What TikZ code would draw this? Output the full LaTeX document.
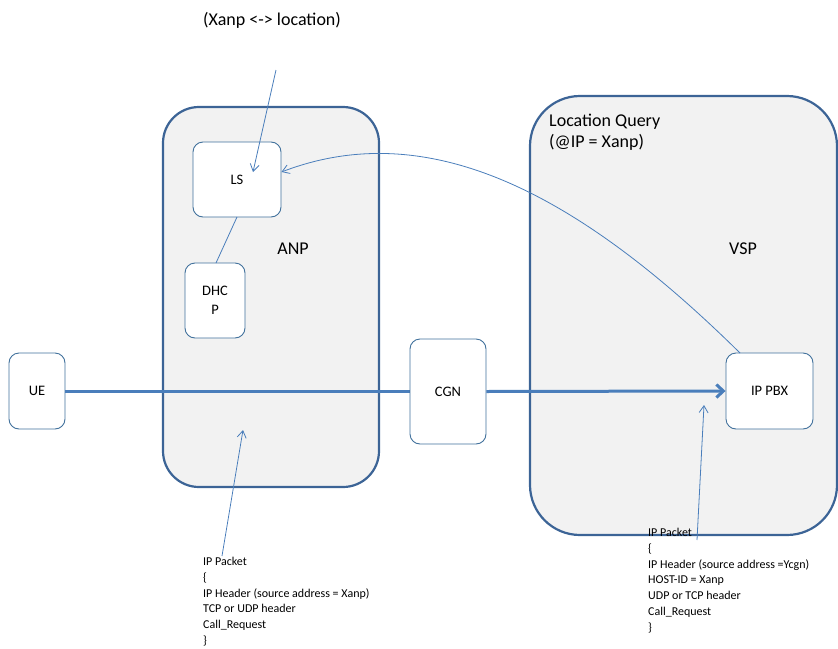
\documentclass[tikz,border=0pt]{standalone}
\usepackage{fontspec}
\setmainfont{Carlito}
\usetikzlibrary{arrows.meta}
\definecolor{bigborder}{HTML}{3C6496}
\definecolor{boxfill}{HTML}{F2F2F2}
\definecolor{smallborder}{HTML}{41719C}
\definecolor{linkblue}{HTML}{4A7EBB}
\tikzset{
  bigbox/.style={draw=bigborder, fill=boxfill, line width=2.2pt},
  smallbox/.style={draw=smallborder, fill=white, line width=0.9pt, rounded corners=10pt, inner sep=0pt},
  thin link/.style={draw=linkblue, line width=0.8pt},
  thin arrow/.style={thin link, -{Straight Barb[length=7pt,width=9pt]}},
  thick link/.style={draw=linkblue, line width=3pt},
  lbl/.style={font=\fontsize{14.5}{17}\selectfont},
  biglbl/.style={font=\fontsize{18}{21}\selectfont},
  pkt/.style={font=\fontsize{12}{15.8}\selectfont, align=left, anchor=north west, inner sep=0pt},
}
\begin{document}
\begin{tikzpicture}[x=1pt,y=-1pt]
\useasboundingbox (0,0) rectangle (838,648);
% big boxes
\draw[bigbox, rounded corners=36pt] (163,107) rectangle (379,487);
\draw[bigbox, rounded corners=50pt] (530,96) rectangle (837,535);
\node[biglbl] (anp) at (293,249) {ANP};
\node[biglbl] (vsp) at (743,249) {VSP};
\node[biglbl, anchor=north west, align=left, inner sep=0pt] (lq) at (549,114) {Location Query\\[0pt](@IP = Xanp)};
\node[biglbl] (title) at (272,20) {(Xanp <-> location)};
% small boxes
\node[smallbox, minimum width=88pt, minimum height=75pt, lbl] (ls) at (237,179.5) {LS};
\node[smallbox, minimum width=60pt, minimum height=75pt, lbl, align=center] (dhcp) at (215,300.5) {DHC\\[2pt]P};
\node[smallbox, minimum width=56pt, minimum height=76pt, lbl] (ue) at (37,391) {UE};
\node[smallbox, minimum width=87pt, minimum height=76pt, lbl] (pbx) at (769.5,391) {IP PBX};
% thick flow
\draw[thick link] (ue.east) -- (448,391);
\node[smallbox, minimum width=76pt, minimum height=105pt, lbl] (cgn) at (448,391.5) {CGN};
\draw[thick link, -{Straight Barb[length=7pt,width=13pt]}] (cgn.east) -- (pbx.west);
% LS - DHCP
\draw[thin link] (237,217) -- (216,263);
% top arrow into LS
\coordinate (tsrc) at (276,70);
\draw[thin arrow] (tsrc) -- (253,172);
% location query curve
\draw[thin arrow] (740,353) .. controls (580,195) and (430,115) .. (ls.east |- 0,172);
% packet arrows
\coordinate (p1) at (222,556);
\coordinate (p2) at (697,540);
\draw[thin arrow] (p1) -- (243,430);
\draw[thin arrow] (p2) -- (704,405);
% packet texts
\node[pkt] (t1) at (203,557) {IP Packet\\\{\\IP Header (source address = Xanp)\\TCP or UDP header\\Call\_Request\\\}};
\node[pkt] (t2) at (648,528) {IP Packet\\\{\\IP Header (source address =Ycgn)\\HOST-ID = Xanp\\UDP or TCP header\\Call\_Request\\\}};
\end{tikzpicture}
\end{document}
